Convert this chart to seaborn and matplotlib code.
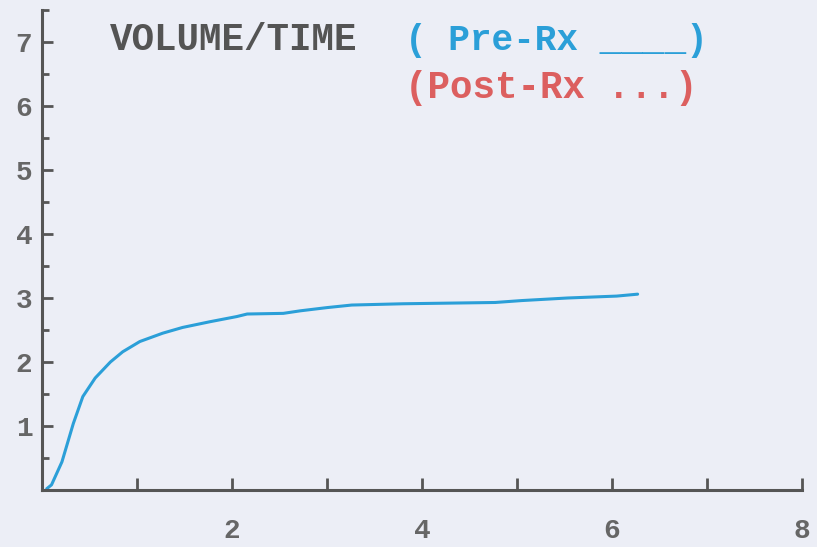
""" Volume/time curve, pre-treatment """

import matplotlib.pyplot as plt
import pandas as pd
import seaborn as sns
from matplotlib.ticker import MultipleLocator, FixedFormatter, FixedLocator

# values
time = [0.05, 0.1, 0.21, 0.33, 0.43, 0.56, 0.72, 0.85, 1.03, 1.27, 1.48,
        1.77, 2.05, 2.16, 2.54, 2.72, 3.0, 3.26, 3.8, 4.77, 5.05, 5.53,
        6.05, 6.27]
volume_pre = [0.02, 0.08, 0.44, 1.04, 1.46, 1.75, 2.0, 2.16, 2.32, 2.45,
              2.54, 2.63, 2.71, 2.75, 2.76, 2.8, 2.85, 2.89, 2.91, 2.93,
              2.96, 3.0, 3.03, 3.06]
y_ticks = [1, 2, 3, 4, 5, 6, 7]
x_tick_labels = ["", "", "2", "", "4", "", "6", "", "8"]

BG = "#eceef6"
AXIS = "#555555"
BLUE = "#2b9fd8"
RED = "#dc5f5f"

sns.set_style("white")
plt.rcParams["font.family"] = ["Liberation Mono", "DejaVu Sans Mono"]

df = pd.DataFrame({"time": time, "volume": volume_pre})

fig = plt.figure(figsize=(8.17, 5.47), dpi=100, facecolor=BG)
ax = fig.add_axes([0.0514, 0.1042, 0.9302, 0.8775])
ax.set_facecolor(BG)

sns.lineplot(x="time", y="volume", data=df, ax=ax, color=BLUE, linewidth=2.2)

ax.set_xlim(0, 8)
ax.set_ylim(0, 7.5)
ax.set_xlabel("")
ax.set_ylabel("")

# old-style axes: left and bottom only, ticks pointing inward
for side in ["top", "right"]:
    ax.spines[side].set_visible(False)
for side in ["left", "bottom"]:
    ax.spines[side].set_color(AXIS)
    ax.spines[side].set_linewidth(2.2)

ax.xaxis.set_major_locator(FixedLocator(range(9)))
ax.xaxis.set_major_formatter(FixedFormatter(x_tick_labels))
ax.yaxis.set_major_locator(FixedLocator(y_ticks))
ax.yaxis.set_minor_locator(MultipleLocator(0.5))
ax.tick_params(axis="x", which="major", bottom=True, direction="in",
               length=9, width=2, color=AXIS, pad=20, labelsize=20,
               labelcolor="#666666")
ax.tick_params(axis="y", which="major", left=True, direction="in",
               length=8, width=2, color=AXIS, pad=7, labelsize=20,
               labelcolor="#666666")
ax.tick_params(axis="y", which="minor", left=True, direction="in",
               length=5, width=2, color=AXIS)
for label in ax.get_xticklabels() + ax.get_yticklabels():
    label.set_fontweight("bold")

# title and legend text drawn like the original screen
ax.text(0.089, 0.9375, "VOLUME/TIME", transform=ax.transAxes, fontsize=27,
        fontweight="bold", color="#545454", va="center")
ax.text(0.478, 0.9375, "( Pre-Rx ____)", transform=ax.transAxes, fontsize=26,
        fontweight="bold", color=BLUE, va="center")
ax.text(0.478, 0.8375, "(Post-Rx ...)", transform=ax.transAxes, fontsize=27,
        fontweight="bold", color=RED, va="center")

plt.savefig("out.png", dpi=100, facecolor=BG)
